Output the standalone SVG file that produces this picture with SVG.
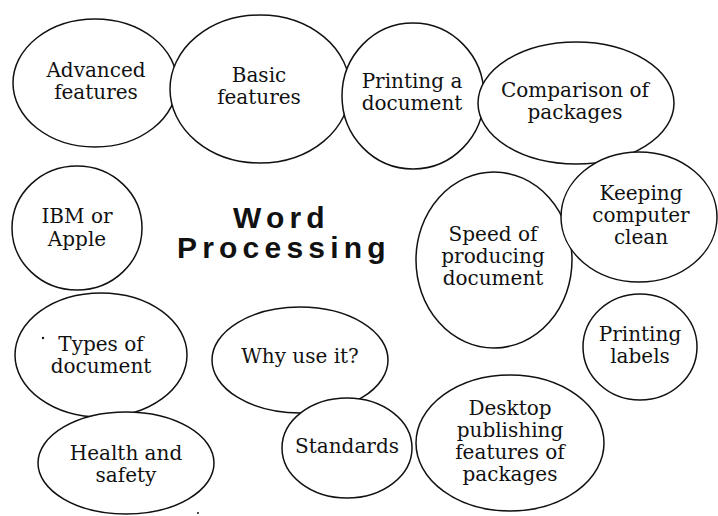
<svg xmlns="http://www.w3.org/2000/svg" width="718" height="516" viewBox="0 0 718 516">
<style>
.b{fill:#fff;stroke:#111;stroke-width:1.5}
.t{font-family:"DejaVu Serif","Liberation Serif",serif;font-size:20px;fill:#111;text-anchor:middle}
.h{font-family:"Liberation Sans",Arial,sans-serif;font-weight:bold;font-size:30px;fill:#111;letter-spacing:5.2px}
</style>
<rect width="718" height="516" fill="#fff"/>
<g id="connectors"/>
<g id="advanced"><ellipse class="b" cx="95" cy="83" rx="82" ry="64"/><text class="t" x="96" y="77">Advanced</text><text class="t" x="96" y="99">features</text></g>
<g id="basic"><ellipse class="b" cx="260" cy="89" rx="90" ry="74"/><text class="t" x="259" y="82">Basic</text><text class="t" x="259" y="104">features</text></g>
<g id="printing"><ellipse class="b" cx="413" cy="96" rx="71" ry="73"/><text class="t" x="412" y="88">Printing a</text><text class="t" x="412" y="110">document</text></g>
<g id="comparison"><ellipse class="b" cx="576" cy="103" rx="98" ry="61"/><text class="t" x="575" y="97">Comparison of</text><text class="t" x="575" y="119">packages</text></g>
<g id="speed"><ellipse class="b" cx="494" cy="260" rx="78" ry="88"/><text class="t" x="493" y="241">Speed of</text><text class="t" x="493" y="263">producing</text><text class="t" x="493" y="285">document</text></g>
<g id="keeping"><ellipse class="b" cx="639" cy="217" rx="78" ry="65"/><text class="t" x="641" y="200">Keeping</text><text class="t" x="641" y="222">computer</text><text class="t" x="641" y="244">clean</text></g>
<g id="labels"><ellipse class="b" cx="640" cy="347" rx="57" ry="53"/><text class="t" x="640" y="341">Printing</text><text class="t" x="640" y="363">labels</text></g>
<g id="ibm"><ellipse class="b" cx="77" cy="228" rx="65" ry="62"/><text class="t" x="77" y="223">IBM or</text><text class="t" x="77" y="246">Apple</text></g>
<g id="title"><text class="h" x="233" y="228">Word</text><text class="h" x="177" y="258">Processing</text></g>
<g id="types"><ellipse class="b" cx="101" cy="355" rx="86" ry="62"/><text class="t" x="101" y="351">Types of</text><text class="t" x="101" y="373">document</text><circle cx="43" cy="338" r="1.2" fill="#111"/></g>
<g id="health"><ellipse class="b" cx="126" cy="463" rx="88" ry="51"/><text class="t" x="126" y="460">Health and</text><text class="t" x="126" y="482">safety</text></g>
<g id="why"><ellipse class="b" cx="300" cy="360" rx="88" ry="53"/><text class="t" x="300" y="363">Why use it?</text></g>
<g id="standards"><ellipse class="b" cx="347" cy="448" rx="65" ry="50"/><text class="t" x="347" y="453">Standards</text></g>
<g id="desktop"><ellipse class="b" cx="510" cy="443" rx="94" ry="68"/><text class="t" x="510" y="415">Desktop</text><text class="t" x="510" y="437">publishing</text><text class="t" x="510" y="459">features of</text><text class="t" x="510" y="481">packages</text></g>
<circle cx="198" cy="513" r="1" fill="#111"/>
</svg>
